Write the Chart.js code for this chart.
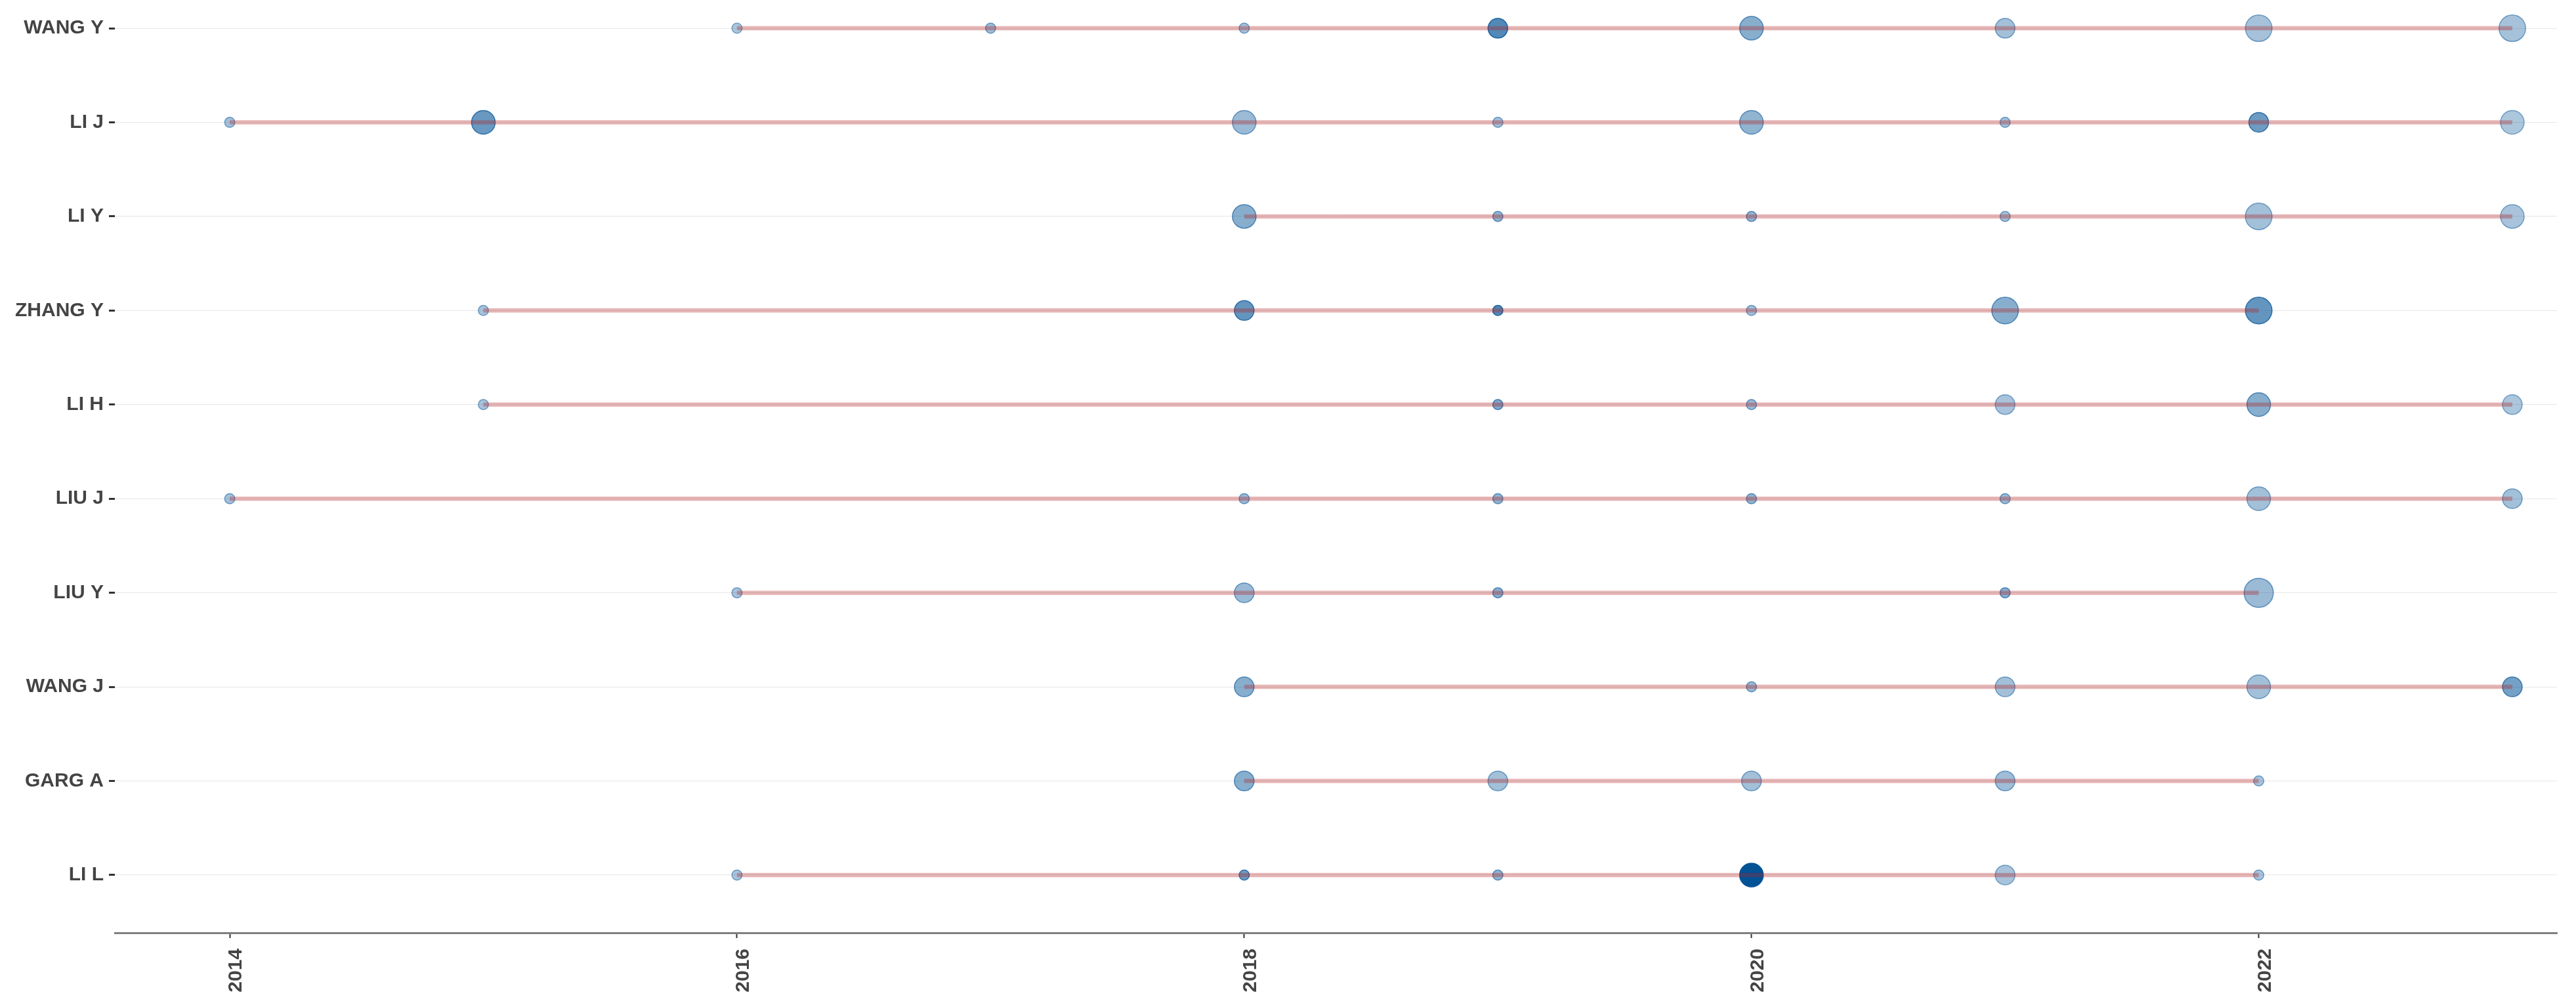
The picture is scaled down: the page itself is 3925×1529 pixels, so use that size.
<!DOCTYPE html>
<html>
<head>
<meta charset="utf-8">
<title>Authors' production over time</title>
<script src="https://cdn.jsdelivr.net/npm/chart.js@4.4.1/dist/chart.umd.min.js"></script>
<style>
  html, body { margin: 0; padding: 0; background: #fff; }
  #chart { display: block; }
</style>
</head>
<body>
<canvas id="chart" width="3925" height="1529"></canvas>
<script>
// authors, top row first
const AUTHORS = ["WANG Y", "LI J", "LI Y", "ZHANG Y", "LI H", "LIU J", "LIU Y", "WANG J", "GARG A", "LI L"];

// publication years per author
const YEARS = [
  [2016, 2017, 2018, 2019, 2020, 2021, 2022, 2023],
  [2014, 2015, 2018, 2019, 2020, 2021, 2022, 2023],
  [2018, 2019, 2020, 2021, 2022, 2023],
  [2015, 2018, 2019, 2020, 2021, 2022],
  [2015, 2019, 2020, 2021, 2022, 2023],
  [2014, 2018, 2019, 2020, 2021, 2022, 2023],
  [2016, 2018, 2019, 2021, 2022],
  [2018, 2020, 2021, 2022, 2023],
  [2018, 2019, 2020, 2021, 2022],
  [2016, 2018, 2019, 2020, 2021, 2022],
];

// number of articles (bubble size)
const ARTICLES = [
  [1, 1, 1, 2, 3, 2, 4, 4],
  [1, 3, 3, 1, 3, 1, 2, 3],
  [3, 1, 1, 1, 4, 3],
  [1, 2, 1, 1, 4, 4],
  [1, 1, 1, 2, 3, 2],
  [1, 1, 1, 1, 1, 3, 2],
  [1, 2, 1, 1, 5],
  [2, 1, 2, 3, 2],
  [2, 2, 2, 2, 1],
  [1, 1, 1, 3, 2, 1],
];

// total citations per year (bubble opacity)
const TC_PER_YEAR = [
  [0.5, 1.2, 1, 5.5, 2.5, 1, 0.8, 0.8],
  [1, 4.2, 1.5, 1, 2, 1, 4, 0.5],
  [2.5, 2, 2, 1, 1, 0.7],
  [0.7, 4.5, 5.5, 1, 2.5, 4.5],
  [0.7, 3, 1.5, 0.7, 2.5, 0.5],
  [1, 1.5, 2, 2, 1.5, 1, 1],
  [0.7, 1.5, 2.5, 2.5, 1.5],
  [2.5, 1.5, 1, 1, 3.5],
  [2.5, 1, 1, 1.2, 0.7],
  [0.7, 4, 2, 10, 0.7, 0.7],
];

const X_TICKS = [2014, 2016, 2018, 2020, 2022];

const N = AUTHORS.length;
const rowOf = (i) => N - 1 - i; // top row gets the highest value
const TXT = "#444444";
const FONT = "'Liberation Sans', Arial, sans-serif";

const allF = ARTICLES.flat(), allT = TC_PER_YEAR.flat();
const fMin = Math.min(...allF), fMax = Math.max(...allF);
const tMin = Math.min(...allT), tMax = Math.max(...allT);
const diam = (f) => 17 + 29 * Math.sqrt((f - fMin) / (fMax - fMin));
const alpha = (t) => 0.33 + 0.67 * (t - tMin) / (tMax - tMin);

// flatten points
const pts = [];
AUTHORS.forEach((a, i) => {
  YEARS[i].forEach((yr, j) => {
    pts.push({ x: yr, y: rowOf(i), f: ARTICLES[i][j], t: TC_PER_YEAR[i][j] });
  });
});

const lineSets = AUTHORS.map((a, i) => ({
  type: "line",
  label: a,
  data: [
    { x: Math.min(...YEARS[i]), y: rowOf(i) },
    { x: Math.max(...YEARS[i]), y: rowOf(i) },
  ],
  borderColor: "rgba(178,34,34,0.33)",
  borderWidth: 6.5,
  borderCapStyle: "butt",
  pointRadius: 0,
  fill: false,
  order: 0,
  clip: false,
}));

const pointSet = {
  type: "scatter",
  label: "articles",
  data: pts,
  order: 1,
  clip: false,
  pointRadius: (c) => c.raw ? diam(c.raw.f) / 2 - 0.75 : 0,
  backgroundColor: (c) => c.raw ? `rgba(2,82,150,${alpha(c.raw.t).toFixed(3)})` : "transparent",
  borderColor: (c) => c.raw ? `rgba(2,82,150,${Math.min(1, alpha(c.raw.t) + 0.15).toFixed(3)})` : "transparent",
  pointBorderWidth: 1.5,
};

new Chart(document.getElementById("chart"), {
  type: "scatter",
  data: { datasets: [pointSet, ...lineSets] },
  options: {
    responsive: false,
    animation: false,
    devicePixelRatio: 1,
    layout: { autoPadding: false, padding: { left: 0, right: 29, top: 0, bottom: 0 } },
    plugins: { legend: { display: false }, tooltip: { enabled: false } },
    scales: {
      x: {
        type: "linear",
        min: 2013.547,
        max: 2023.176,
        afterBuildTicks: (s) => { s.ticks = X_TICKS.map((v) => ({ value: v })); },
        afterFit: (s) => { s.height = 107; s.paddingLeft = 0; s.paddingRight = 0; },
        grid: { drawOnChartArea: false, drawTicks: true, tickLength: 8, tickWidth: 2, tickColor: "#333333" },
        border: { display: true, color: "#7f7f7f", width: 3 },
        ticks: {
          autoSkip: false, minRotation: 90, maxRotation: 90, padding: 16, labelOffset: 10,
          color: TXT, font: { family: FONT, size: 30, weight: "bold" },
          callback: (v) => String(v),
        },
      },
      y: {
        type: "linear",
        min: -0.614,
        max: 9.3,
        afterBuildTicks: (s) => { s.ticks = AUTHORS.map((_, i) => ({ value: i })); },
        afterFit: (s) => { s.width = 175; s.paddingTop = 0; s.paddingBottom = 0; },
        grid: { color: "#e6e6e6", lineWidth: 1, drawTicks: true, tickLength: 9, tickWidth: 3, tickColor: "#333333" },
        border: { display: false },
        ticks: {
          padding: 8,
          color: TXT, font: { family: FONT, size: 30, weight: "bold" },
          callback: (v) => AUTHORS[N - 1 - v],
        },
      },
    },
  },
});
</script>
</body>
</html>
